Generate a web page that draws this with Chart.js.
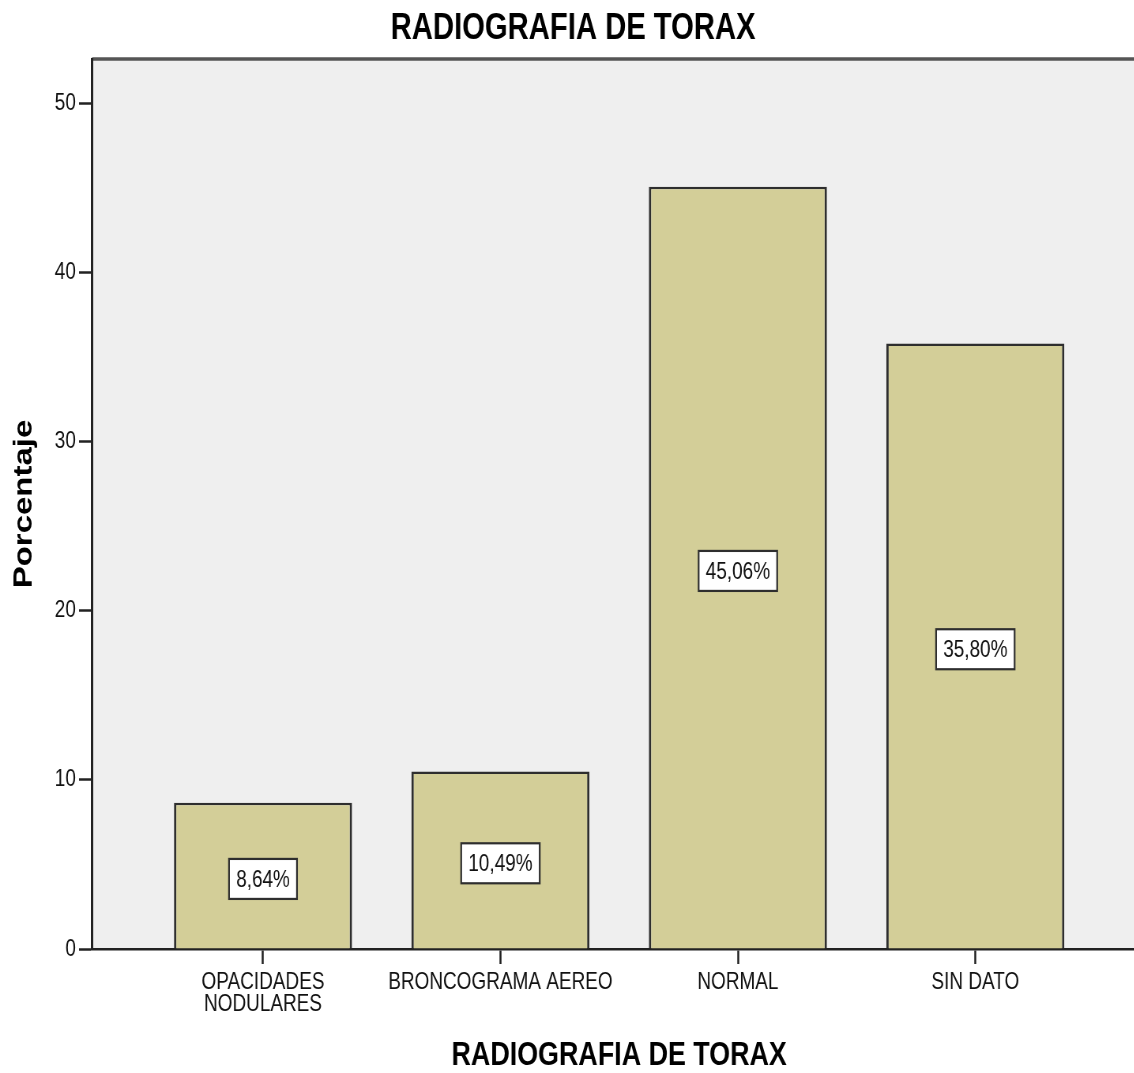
<!DOCTYPE html>
<html lang="es">
<head>
<meta charset="utf-8">
<title>RADIOGRAFIA DE TORAX</title>
<script src="https://cdn.jsdelivr.net/npm/chart.js@4.4.1/dist/chart.umd.min.js"></script>
<style>
  html, body { margin: 0; padding: 0; background: #ffffff; }
  #frame { width: 1134px; height: 1073px; overflow: hidden; position: relative; }
  /* the chart is laid out wide and narrowed horizontally, giving the condensed lettering */
  #chart { position: absolute; left: 0; top: 0; transform: scaleX(0.79); transform-origin: 0 0; }
</style>
</head>
<body>
<div id="frame"><canvas id="chart" width="1451" height="1073"></canvas></div>
<script>
const categories = [['OPACIDADES', 'NODULARES'], 'BRONCOGRAMA AEREO', 'NORMAL', 'SIN DATO'];
const percentages = [8.64, 10.49, 45.06, 35.80];
const yTickValues = [0, 10, 20, 30, 40, 50];
const chartTitle = 'RADIOGRAFIA DE TORAX';
const xAxisTitle = 'RADIOGRAFIA DE TORAX';
const yAxisTitle = 'Porcentaje';

const FAMILY = '"Liberation Sans", Arial, Helvetica, sans-serif';
const INK = '#222222';

// light grey plot panel with a heavier top rule
const plotFrame = {
  id: 'plotFrame',
  beforeDraw(chart) {
    const { ctx, chartArea: a } = chart;
    ctx.save();
    ctx.fillStyle = '#efefef';
    ctx.fillRect(a.left, a.top, a.right - a.left, a.bottom - a.top);
    ctx.strokeStyle = '#555555';
    ctx.lineWidth = 3.5;
    ctx.beginPath();
    ctx.moveTo(a.left, a.top);
    ctx.lineTo(a.right, a.top);
    ctx.stroke();
    ctx.restore();
  }
};

// boxed percentage label in the middle of each bar
const valueBoxes = {
  id: 'valueBoxes',
  afterDatasetsDraw(chart) {
    const { ctx } = chart;
    const yScale = chart.scales.y;
    const meta = chart.getDatasetMeta(0);
    ctx.save();
    ctx.font = '24px ' + FAMILY;
    ctx.textAlign = 'center';
    ctx.textBaseline = 'middle';
    meta.data.forEach((bar, i) => {
      const v = percentages[i];
      const text = v.toFixed(2).replace('.', ',') + '%';
      const cy = yScale.getPixelForValue(v / 2) + 3;
      const w = ctx.measureText(text).width + 18;
      const h = 40;
      ctx.fillStyle = '#ffffff';
      ctx.fillRect(bar.x - w / 2, cy - h / 2, w, h);
      ctx.strokeStyle = '#2e2e2e';
      ctx.lineWidth = 2.2;
      ctx.strokeRect(bar.x - w / 2, cy - h / 2, w, h);
      ctx.fillStyle = '#111111';
      ctx.fillText(text, bar.x, cy + 1);
    });
    ctx.restore();
  }
};

new Chart(document.getElementById('chart'), {
  type: 'bar',
  data: {
    datasets: [{
      label: yAxisTitle,
      data: percentages.map((v, i) => ({ x: i, y: v })),
      backgroundColor: '#d3ce98',
      borderColor: '#2e2e2e',
      borderWidth: { top: 2.5, left: 3, right: 3, bottom: 0 },
      borderSkipped: 'start',
      categoryPercentage: 1,
      barPercentage: 0.75
    }]
  },
  options: {
    responsive: false,
    animation: false,
    layout: { padding: 0 },
    plugins: {
      legend: { display: false },
      tooltip: { enabled: false },
      title: {
        display: true,
        text: chartTitle,
        color: '#000000',
        font: { family: FAMILY, size: 37, weight: 'bold', lineHeight: 1.2 },
        padding: { top: 6.3, bottom: 8.3 }
      }
    },
    scales: {
      x: {
        type: 'linear',
        offset: false,
        min: -0.72,
        max: 3.72,
        afterBuildTicks: s => { s.ticks = categories.map((_, i) => ({ value: i })); },
        afterFit: s => { s.height = 124; },
        ticks: {
          callback: v => categories[v],
          color: '#111111',
          font: { family: FAMILY, size: 24, lineHeight: 0.92 },
          padding: 7,
          maxRotation: 0,
          autoSkip: false
        },
        grid: { offset: false, drawOnChartArea: false, drawTicks: true, tickLength: 15, tickWidth: 2.5, tickColor: INK },
        border: { display: true, color: INK, width: 2.5 },
        title: {
          display: true,
          text: xAxisTitle,
          color: '#000000',
          font: { family: FAMILY, size: 34, weight: 'bold', lineHeight: 1 },
          padding: { top: 0, bottom: 0.5 }
        }
      },
      y: {
        min: 0,
        max: 52.62,
        afterBuildTicks: s => { s.ticks = yTickValues.map(v => ({ value: v })); },
        afterFit: s => { s.width = 116.5; },
        ticks: { color: '#111111', font: { family: FAMILY, size: 24 }, padding: 4 },
        grid: { drawOnChartArea: false, drawTicks: true, tickLength: 16.5, tickWidth: 2.5, tickColor: INK },
        border: { display: true, color: INK, width: 3 },
        title: {
          display: true,
          text: yAxisTitle,
          color: '#000000',
          font: { family: FAMILY, size: 33, weight: 'bold', lineHeight: 1 },
          padding: { top: 14, bottom: 0 }
        }
      }
    }
  },
  plugins: [plotFrame, valueBoxes]
});
</script>
</body>
</html>
